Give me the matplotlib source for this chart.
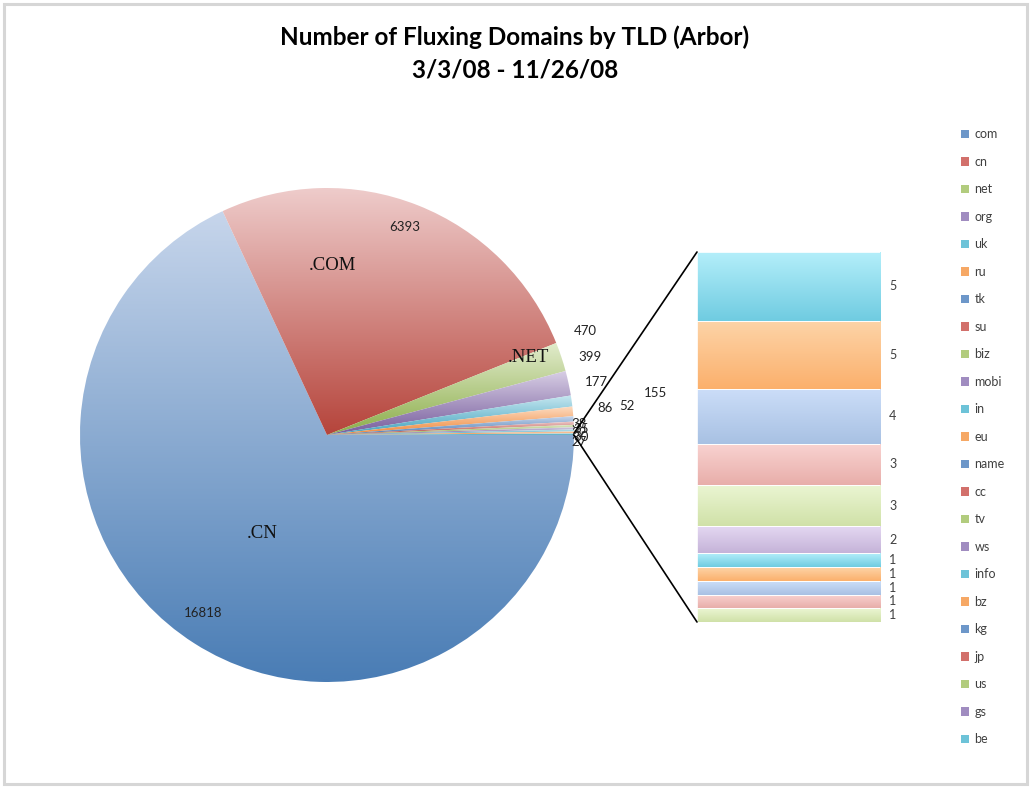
import numpy as np
import matplotlib
matplotlib.use("Agg")
import matplotlib.pyplot as plt
from matplotlib.colors import to_rgb
from matplotlib.patches import Rectangle, Patch, ConnectionPatch

# ---------------------------------------------------------------- data
tlds = ["com", "cn", "net", "org", "uk", "ru", "tk", "su", "biz", "mobi",
        "in", "eu", "name", "cc", "tv", "ws", "info", "bz", "kg", "jp",
        "us", "gs", "be"]
pie_values = [16818, 6393, 470, 399, 177, 155, 86, 52, 38, 35, 32, 30]
bar_values = [1, 1, 1, 1, 1, 2, 3, 3, 4, 5, 5]          # bottom -> top
other_value = sum(bar_values)
pie_names = {0: ".CN", 1: ".COM", 2: ".NET"}              # as typed on the chart

# ---------------------------------------------------------------- palette
INK = "#404040"
CYCLE = ["blue", "red", "green", "purple", "cyan", "orange"]
PIE_GRAD = {  # (top, bottom)
    "blue": ("#c6d5eb", "#4a7db5"),
    "red": ("#eecbca", "#b6453c"),
    "green": ("#e1ebcb", "#8cae4b"),
    "purple": ("#d8cfe5", "#785d9d"),
    "cyan": ("#c6e7f0", "#43a3be"),
    "orange": ("#fddcc2", "#ef883a"),
}
BAR_GRAD = {
    "blue": ("#cbddf8", "#a8c1e3"),
    "red": ("#f9d3d1", "#e8aeaa"),
    "green": ("#ebf6d3", "#d0e1a8"),
    "purple": ("#e5d9f3", "#c5b3d8"),
    "cyan": ("#b3eefa", "#70cce1"),
    "orange": ("#fdd4a8", "#fbb06c"),
}
LEGEND_C = {
    "blue": "#6d97c9", "red": "#d2706b", "green": "#b2cc7e",
    "purple": "#a08cc0", "cyan": "#6dc3d8", "orange": "#f6a865",
}
BAR_CYCLE = ["green", "red", "blue", "orange", "cyan", "purple"]

plt.rcParams["font.family"] = ["Lato", "DejaVu Sans"]

W, H = 1030, 787
fig = plt.figure(figsize=(W / 100, H / 100), dpi=100)
fig.patch.set_facecolor("white")

# frame of the chart area
bg = fig.add_axes([0, 0, 1, 1])
bg.set_xlim(0, W)
bg.set_ylim(H, 0)
bg.axis("off")
bg.add_patch(Rectangle((4, 4), W - 7, H - 7, fill=False, ec="#d6d6d6", lw=2.2))

fig.text(0.5, 1 - 37 / H, "Number of Fluxing Domains by TLD (Arbor)",
         ha="center", va="center", fontsize=17.5, fontweight="bold", color="black")
fig.text(0.5, 1 - 70 / H, "3/3/08 - 11/26/08",
         ha="center", va="center", fontsize=17.5, fontweight="bold", color="black")


def gradient_fill(ax, patch, top, bottom):
    if isinstance(patch, Rectangle):
        ext = patch.get_path().transformed(patch.get_patch_transform()).get_extents()
    else:
        ext = patch.get_path().get_extents()
    t, b = np.array(to_rgb(top)), np.array(to_rgb(bottom))
    f = np.linspace(0, 1, 64)[:, None]
    img = (t * (1 - f) + b * f)[:, None, :]
    im = ax.imshow(img, extent=(ext.x0, ext.x1, ext.y0, ext.y1), origin="upper",
                   aspect="auto", interpolation="bilinear", zorder=patch.get_zorder())
    im.set_clip_path(patch)


# ---------------------------------------------------------------- pie
cx, cy, R = 327, 435, 247
pax = fig.add_axes([(cx - R) / W, (H - cy - R) / H, 2 * R / W, 2 * R / H])
wedges, _ = pax.pie(pie_values + [other_value], startangle=0, counterclock=False,
                    radius=1, center=(0, 0),
                    colors=["none"] * (len(pie_values) + 1),
                    wedgeprops=dict(linewidth=0))
for i, w in enumerate(wedges):
    c = CYCLE[i % 6] if i < len(pie_values) else "cyan"
    gradient_fill(pax, w, *PIE_GRAD[c])
pax.set_xlim(-1, 1)
pax.set_ylim(-1, 1)
pax.set_aspect("auto")
pax.axis("off")

# value labels (Excel placement, pie units)
label_pos = [(-0.502, -0.721), (0.316, 0.842), (1.045, 0.421), (1.065, 0.316),
             (1.089, 0.215), (1.328, 0.170), (1.125, 0.109), (1.215, 0.117),
             (1.022, 0.045), (1.030, 0.025), (1.020, 0.008), (1.028, -0.010),
             (1.020, -0.028)]
for v, (x, y) in zip(pie_values + [other_value], label_pos):
    pax.text(x, y, str(v), ha="center", va="center", fontsize=9.5,
             color="#222222", clip_on=False)

name_pos = {0: (-0.263, -0.397), 1: (0.024, 0.688), 2: (0.814, 0.312)}
for i, nm in pie_names.items():
    x, y = name_pos[i]
    pax.text(x, y, nm, ha="center", va="center", fontsize=13.5,
             family="Liberation Serif", color="#111111")

# ---------------------------------------------------------------- bar of pie
bx0, bx1, by0, by1 = 697, 880, 252, 622
bax = fig.add_axes([bx0 / W, (H - by1) / H, (bx1 - bx0) / W, (by1 - by0) / H])
bottoms = np.concatenate([[0], np.cumsum(bar_values)[:-1]])
bars = bax.bar([0.5] * len(bar_values), bar_values, width=1, bottom=bottoms,
               color="none", edgecolor="white", linewidth=0.6)
for i, (b, v, bt) in enumerate(zip(bars, bar_values, bottoms)):
    gradient_fill(bax, b, *BAR_GRAD[BAR_CYCLE[i % 6]])
    bax.add_patch(Rectangle(b.get_xy(), 1, v, fill=False, ec="white", lw=0.6,
                            zorder=5))
    bax.text(1.07, bt + v / 2, str(v), ha="center", va="center", fontsize=9,
             color=INK, transform=bax.get_yaxis_transform(), clip_on=False)
bax.set_xlim(0, 1)
bax.set_ylim(0, other_value)
bax.axis("off")

# connector lines from the "other" wedge to the bar
w_o = wedges[-1]
for ang, yb in ((w_o.theta2, other_value), (w_o.theta1, 0)):
    p = (np.cos(np.radians(ang)), np.sin(np.radians(ang)))
    con = ConnectionPatch(xyA=p, coordsA=pax.transData, xyB=(0, yb),
                          coordsB=bax.transData, color="black", lw=1.2)
    fig.add_artist(con)

# ---------------------------------------------------------------- legend
handles = [Patch(facecolor=LEGEND_C[CYCLE[i % 6]], edgecolor="none", label=t)
           for i, t in enumerate(tlds)]
fig.legend(handles=handles, loc="upper left", bbox_to_anchor=(955 / W, 1 - 122 / H),
           frameon=False, fontsize=9, handlelength=0.65, handleheight=0.65,
           handletextpad=0.4, labelspacing=1.24, labelcolor=INK, borderpad=0)

fig.savefig("out.png", dpi=100, facecolor="white")
